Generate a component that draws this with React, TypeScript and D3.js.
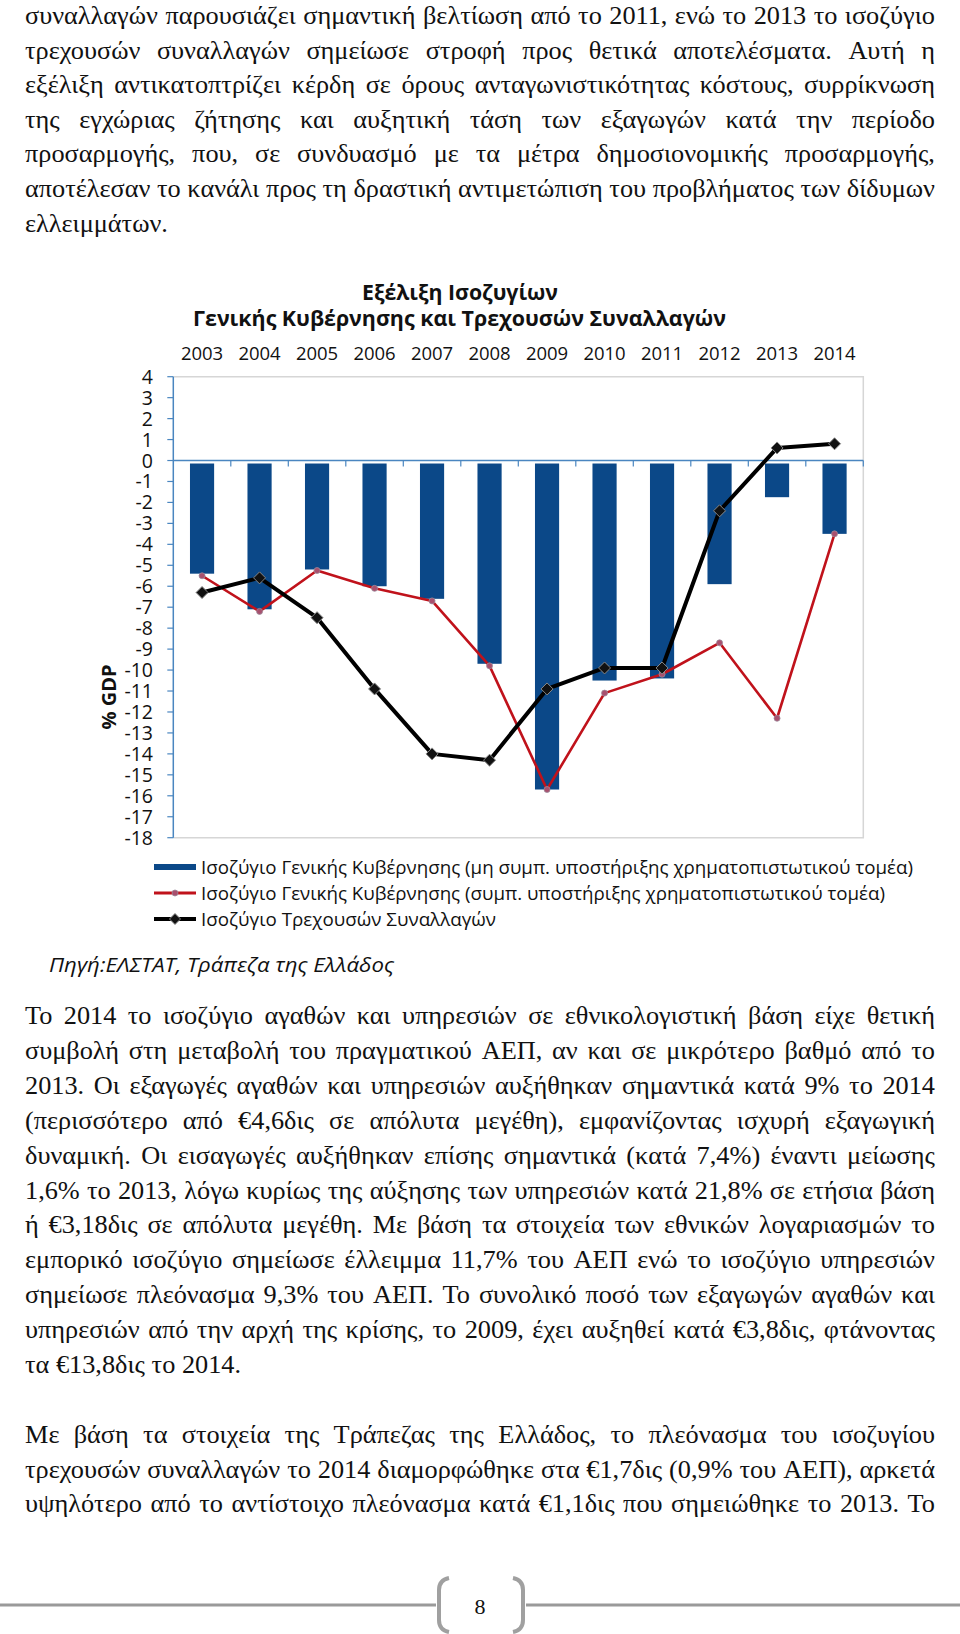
import React, { useEffect, useRef } from "react";
import * as d3 from "d3";

// ---------- data ----------
const years = ["2003","2004","2005","2006","2007","2008","2009","2010","2011","2012","2013","2014"];
const govBalanceExSupport = [-5.4,-7.1,-5.2,-6.0,-6.6,-9.7,-15.7,-10.5,-10.4,-5.9,-1.75,-3.5];
const govBalanceInclSupport = [-5.5,-7.2,-5.25,-6.1,-6.7,-9.8,-15.7,-11.1,-10.2,-8.7,-12.3,-3.5];
const currentAccount = [-6.3,-5.6,-7.5,-10.9,-14.0,-14.3,-10.9,-9.9,-9.9,-2.4,0.6,0.8];
const yTicks = [4,3,2,1,0,-1,-2,-3,-4,-5,-6,-7,-8,-9,-10,-11,-12,-13,-14,-15,-16,-17,-18];

const titleLines = ["Εξέλιξη Ισοζυγίων", "Γενικής Κυβέρνησης και Τρεχουσών Συναλλαγών"];
const legendLabels = [
  "Ισοζύγιο Γενικής Κυβέρνησης (μη συμπ. υποστήριξης χρηματοπιστωτικού τομέα)",
  "Ισοζύγιο Γενικής Κυβέρνησης (συμπ. υποστήριξης χρηματοπιστωτικού τομέα)",
  "Ισοζύγιο Τρεχουσών Συναλλαγών",
];
const sourceText = "Πηγή:ΕΛΣΤΑΤ, Τράπεζα της Ελλάδος";
const yAxisTitle = "% GDP";
const pageNumber = "8";

const para1 = [
  "συναλλαγών παρουσιάζει σημαντική βελτίωση από το 2011, ενώ το 2013 το ισοζύγιο",
  "τρεχουσών συναλλαγών σημείωσε στροφή προς θετικά αποτελέσματα. Αυτή η",
  "εξέλιξη αντικατοπτρίζει κέρδη σε όρους ανταγωνιστικότητας κόστους, συρρίκνωση",
  "της εγχώριας ζήτησης και αυξητική τάση των εξαγωγών κατά την περίοδο",
  "προσαρμογής, που, σε συνδυασμό με τα μέτρα δημοσιονομικής προσαρμογής,",
  "αποτέλεσαν το κανάλι προς τη δραστική αντιμετώπιση του προβλήματος των δίδυμων",
  "ελλειμμάτων.",
];
const para2 = [
  "Το 2014 το ισοζύγιο αγαθών και υπηρεσιών σε εθνικολογιστική βάση είχε θετική",
  "συμβολή στη μεταβολή του πραγματικού ΑΕΠ, αν και σε μικρότερο βαθμό από το",
  "2013. Οι εξαγωγές αγαθών και υπηρεσιών αυξήθηκαν σημαντικά κατά 9% το 2014",
  "(περισσότερο από €4,6δις σε απόλυτα μεγέθη), εμφανίζοντας ισχυρή εξαγωγική",
  "δυναμική. Οι εισαγωγές αυξήθηκαν επίσης σημαντικά (κατά 7,4%) έναντι μείωσης",
  "1,6% το 2013, λόγω κυρίως της αύξησης των υπηρεσιών κατά 21,8% σε ετήσια βάση",
  "ή €3,18δις σε απόλυτα μεγέθη. Με βάση τα στοιχεία των εθνικών λογαριασμών το",
  "εμπορικό ισοζύγιο σημείωσε έλλειμμα 11,7% του ΑΕΠ ενώ το ισοζύγιο υπηρεσιών",
  "σημείωσε πλεόνασμα 9,3% του ΑΕΠ. Το συνολικό ποσό των εξαγωγών αγαθών και",
  "υπηρεσιών από την αρχή της κρίσης, το 2009, έχει αυξηθεί κατά €3,8δις, φτάνοντας",
  "τα €13,8δις το 2014.",
];
const para3 = [
  "Με βάση τα στοιχεία της Τράπεζας της Ελλάδος, το πλεόνασμα του ισοζυγίου",
  "τρεχουσών συναλλαγών το 2014 διαμορφώθηκε στα €1,7δις (0,9% του ΑΕΠ), αρκετά",
  "υψηλότερο από το αντίστοιχο πλεόνασμα κατά €1,1δις που σημειώθηκε το 2013. Το",
];

// ---------- layout ----------
const W = 960, H = 1634;
const TEXT_L = 25, TEXT_R = 935;
const FS = 24.5;
const SERIF = "'Liberation Serif', 'Times New Roman', serif";
const SANS = "'Open Sans', 'Noto Sans', sans-serif";
const paragraphs = [
  { lines: para1, y0: 24, lh: 34.6, justifyLast: false },
  { lines: para2, y0: 1024, lh: 34.9, justifyLast: false },
  { lines: para3, y0: 1443, lh: 34.6, justifyLast: true },
];

const PL = 173.3, PR = 863.3, PT = 376.7, PB = 837.7;

export default function App() {
  const textRef = useRef<SVGGElement | null>(null);

  const x = d3.scaleBand<string>().domain(years).range([PL, PR]).paddingInner(0).paddingOuter(0);
  const y = d3.scaleLinear().domain([-18, 4]).range([PB, PT]);
  const cx = (yr: string) => (x(yr) as number) + x.bandwidth() / 2;
  const barW = x.bandwidth() * 0.42;

  const lineGen = d3.line<number>().x((_, i) => cx(years[i])).y((v) => y(v));
  const diamond = (s: number) => `M0,${-s}L${s},0L0,${s}L${-s},0Z`;

  useEffect(() => {
    const g = d3.select(textRef.current);
    g.selectAll("*").remove();
    const measure = (s: string) => {
      const tmp = g.append("text").attr("font-family", SERIF).attr("font-size", FS).attr("xml:space", "preserve").text(s);
      const wd = (tmp.node() as SVGTextElement).getComputedTextLength();
      tmp.remove();
      return wd;
    };
    const spaceW = FS * 0.25;
    // horizontal stretch so the tightest justified line fits with natural spaces
    let sx = 10;
    const measured = paragraphs.map((p) =>
      p.lines.map((line) => {
        const words = line.split(" ");
        return { words, widths: words.map(measure) };
      })
    );
    paragraphs.forEach((p, pi) => {
      p.lines.forEach((_, i) => {
        const justify = i < p.lines.length - 1 || p.justifyLast;
        if (!justify) return;
        const m = measured[pi][i];
        const nat = d3.sum(m.widths) + spaceW * (m.words.length - 1);
        sx = Math.min(sx, (TEXT_R - TEXT_L) / nat);
      });
    });
    sx = Math.max(0.9, Math.min(1.2, sx));

    paragraphs.forEach((p, pi) => {
      p.lines.forEach((line, i) => {
        const yy = p.y0 + i * p.lh;
        const justify = i < p.lines.length - 1 || p.justifyLast;
        const m = measured[pi][i];
        const total = d3.sum(m.widths) * sx;
        const gap = justify
          ? (TEXT_R - TEXT_L - total) / Math.max(1, m.words.length - 1)
          : spaceW * sx;
        let xx = TEXT_L;
        m.words.forEach((w, k) => {
          g.append("text")
            .attr("transform", `translate(${xx},${yy}) scale(${sx},1)`)
            .attr("font-family", SERIF)
            .attr("font-size", FS)
            .attr("fill", "#111")
            .text(w);
          xx += m.widths[k] * sx + gap;
        });
      });
    });
  }, []);

  const redPts = govBalanceInclSupport;
  const blkPts = currentAccount;

  return (
    <svg width={W} height={H} viewBox={`0 0 ${W} ${H}`} style={{ position: "absolute", left: 0, top: 0, display: "block", background: "#fff" }}>
      <rect x={0} y={0} width={W} height={H} fill="#fff" />
      <g ref={textRef} />

      {/* title */}
      <g fontFamily={SANS} fontWeight={700} fill="#111" textAnchor="middle">
        <text x={460} y={300} fontSize={20.5} textLength={196} lengthAdjust="spacingAndGlyphs">{titleLines[0]}</text>
        <text x={459.5} y={326} fontSize={20.5} textLength={533} lengthAdjust="spacingAndGlyphs">{titleLines[1]}</text>
      </g>

      {/* year labels on top */}
      <g fontFamily={SANS} fontSize={18.5} fill="#111" textAnchor="middle">
        {years.map((yr) => (
          <text key={yr} x={cx(yr)} y={360}>{yr}</text>
        ))}
      </g>

      {/* plot border */}
      <path d={`M${PL},${PT}H${PR}V${PB}H${PL}`} fill="none" stroke="#d6d6d6" strokeWidth={1.5} />

      {/* bars */}
      {years.map((yr, i) => (
        <rect key={yr} x={cx(yr) - barW / 2} y={y(0) + 3} width={barW}
          height={Math.max(0, y(govBalanceExSupport[i]) - y(0) - 3)} fill="#0b4888" />
      ))}

      {/* y axis */}
      <line x1={PL} x2={PL} y1={PT} y2={PB} stroke="#4a86c0" strokeWidth={1.5} />
      {yTicks.map((t) => (
        <line key={t} x1={PL - 6} x2={PL} y1={y(t)} y2={y(t)} stroke="#4a86c0" strokeWidth={1.2} />
      ))}
      <g fontFamily={SANS} fontSize={19.5} fill="#111" textAnchor="end">
        {yTicks.map((t) => (
          <text key={t} x={153} y={y(t)} dy="0.36em">{t}</text>
        ))}
      </g>
      <text transform={`translate(116,${697}) rotate(-90)`} textAnchor="middle" fontFamily={SANS} fontWeight={700} fontSize={20} fill="#111">{yAxisTitle}</text>

      {/* zero axis */}
      <line x1={PL} x2={PR} y1={y(0)} y2={y(0)} stroke="#4a86c0" strokeWidth={1.5} />
      {years.map((yr) => (
        <line key={yr} x1={(x(yr) as number) + x.bandwidth()} x2={(x(yr) as number) + x.bandwidth()} y1={y(0)} y2={y(0) + 6} stroke="#4a86c0" strokeWidth={1.2} />
      ))}

      {/* red line */}
      <path d={lineGen(redPts) || ""} fill="none" stroke="#c0121b" strokeWidth={2.6} strokeLinejoin="round" />
      {redPts.map((v, i) => (
        <circle key={i} cx={cx(years[i])} cy={y(v)} r={3} fill="#a8506e" stroke="#9a8a9a" strokeWidth={0.8} />
      ))}

      {/* black line */}
      <path d={lineGen(blkPts) || ""} fill="none" stroke="#000" strokeWidth={4} strokeLinejoin="round" />
      {blkPts.map((v, i) => (
        <path key={i} d={diamond(6)} transform={`translate(${cx(years[i])},${y(v)})`} fill="#111" stroke="#888" strokeWidth={1} />
      ))}

      {/* legend */}
      <g fontFamily={SANS} fontSize={18.8} fill="#111">
        <rect x={154} y={864} width={42} height={6} fill="#0b4888" />
        <text x={201} y={873.5} textLength={712} lengthAdjust="spacingAndGlyphs">{legendLabels[0]}</text>
        <line x1={154} x2={196} y1={893} y2={893} stroke="#c0121b" strokeWidth={3} />
        <circle cx={175} cy={893} r={3} fill="#a8506e" stroke="#9a8a9a" strokeWidth={0.8} />
        <text x={201} y={899.5} textLength={684} lengthAdjust="spacingAndGlyphs">{legendLabels[1]}</text>
        <line x1={154} x2={196} y1={919} y2={919} stroke="#000" strokeWidth={4} />
        <path d={diamond(5.5)} transform="translate(175,919)" fill="#111" stroke="#888" strokeWidth={1} />
        <text x={201} y={925.5} textLength={295} lengthAdjust="spacingAndGlyphs">{legendLabels[2]}</text>
      </g>

      {/* source */}
      <text x={49} y={972} fontFamily={SANS} fontStyle="italic" fontSize={20} fill="#111" textLength={345} lengthAdjust="spacingAndGlyphs">{sourceText}</text>

      {/* footer */}
      <line x1={0} x2={436} y1={1605} y2={1605} stroke="#9a9a9a" strokeWidth={3} />
      <line x1={526} x2={960} y1={1605} y2={1605} stroke="#9a9a9a" strokeWidth={3} />
      <path d="M449,1578 Q439,1580 439,1590 L439,1620 Q439,1630 449,1632" fill="none" stroke="#a0a0a0" strokeWidth={4} />
      <path d="M513,1578 Q523,1580 523,1590 L523,1620 Q523,1630 513,1632" fill="none" stroke="#a0a0a0" strokeWidth={4} />
      <text x={480} y={1614} textAnchor="middle" fontFamily={SERIF} fontSize={22} fill="#111">{pageNumber}</text>
    </svg>
  );
}
